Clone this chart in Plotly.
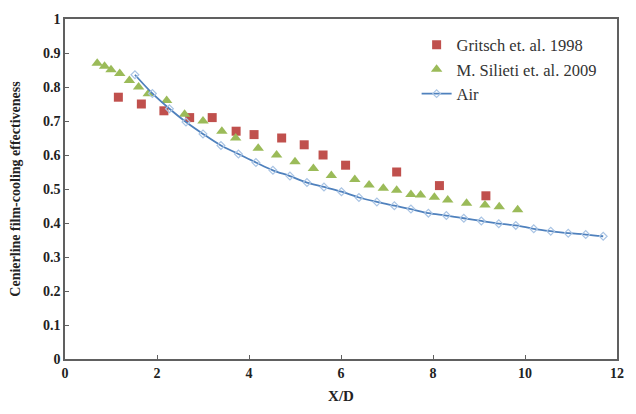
import plotly.graph_objects as go

# Gritsch et. al. 1998
gritsch_x = [1.16, 1.66, 2.15, 2.71, 3.20, 3.72, 4.11, 4.71, 5.20, 5.61, 6.10, 7.21, 8.14, 9.15]
gritsch_y = [0.77, 0.75, 0.73, 0.71, 0.71, 0.67, 0.66, 0.65, 0.63, 0.60, 0.57, 0.55, 0.51, 0.48]

# M. Silieti et. al. 2009
silieti_x = [0.70, 0.86, 1.00, 1.19, 1.40, 1.60, 1.81, 2.21, 2.60, 3.00, 3.41, 3.71, 4.20, 4.60,
             5.00, 5.40, 5.79, 6.30, 6.61, 6.92, 7.21, 7.52, 7.73, 8.03, 8.32, 8.73, 9.13, 9.44, 9.84]
silieti_y = [0.870, 0.861, 0.851, 0.840, 0.819, 0.800, 0.780, 0.760, 0.720, 0.700, 0.670, 0.650,
             0.620, 0.600, 0.580, 0.560, 0.540, 0.528, 0.512, 0.502, 0.496, 0.484, 0.482, 0.476,
             0.468, 0.458, 0.453, 0.448, 0.439]

# Air
air_x = [1.52, 1.90, 2.27, 2.63, 3.00, 3.39, 3.77, 4.15, 4.52, 4.89, 5.26, 5.63, 6.01, 6.39,
         6.78, 7.16, 7.52, 7.90, 8.29, 8.67, 9.05, 9.43, 9.80, 10.19, 10.56, 10.94, 11.32, 11.70]
air_y = [0.836, 0.781, 0.736, 0.697, 0.662, 0.628, 0.603, 0.578, 0.555, 0.538, 0.519, 0.506,
         0.492, 0.475, 0.462, 0.451, 0.441, 0.429, 0.422, 0.414, 0.406, 0.398, 0.393, 0.383,
         0.376, 0.370, 0.366, 0.361]

x_ticks = [0, 2, 4, 6, 8, 10, 12]
y_ticks = [0, 0.1, 0.2, 0.3, 0.4, 0.5, 0.6, 0.7, 0.8, 0.9, 1]
y_tick_text = ["0", "0.1", "0.2", "0.3", "0.4", "0.5", "0.6", "0.7", "0.8", "0.9", "1"]

serif = "Liberation Serif"

fig = go.Figure()
fig.add_trace(go.Scatter(
    x=gritsch_x, y=gritsch_y, mode="markers", name="Gritsch et. al. 1998",
    marker=dict(symbol="square", size=9, color="#C0504D", line=dict(width=0))))
fig.add_trace(go.Scatter(
    x=silieti_x, y=silieti_y, mode="markers", name="M. Silieti et. al. 2009",
    marker=dict(symbol="triangle-up", size=10, color="#9BBB59", line=dict(width=0))))
fig.add_trace(go.Scatter(
    x=air_x, y=air_y, mode="lines+markers", name="Air", line_shape="spline",
    line=dict(color="#4F81BD", width=1.8),
    marker=dict(symbol="diamond-open", size=6, color="#A9C4E4", line=dict(width=1.2))))

fig.update_layout(
    width=636, height=414,
    margin=dict(l=65, r=14, t=12, b=53),
    paper_bgcolor="white", plot_bgcolor="white",
    font=dict(family=serif, color="#222222"),
    showlegend=True,
    legend=dict(x=0.637, y=0.975, xanchor="left", yanchor="top",
                bgcolor="rgba(0,0,0,0)", font=dict(size=16.5, family=serif, color="#333333"),
                tracegroupgap=0, itemwidth=30),
    xaxis=dict(range=[0, 12], tickvals=x_ticks, ticks="inside", ticklen=4, tickcolor="#606060",
               showline=True, linecolor="#606060", linewidth=1.5, mirror=True, showgrid=False,
               zeroline=False, tickfont=dict(size=14, family=serif, color="#222222", weight="bold"),
               title=dict(text="<b>X/D</b>", font=dict(size=15, family=serif), standoff=11)),
    yaxis=dict(range=[0, 1], tickvals=y_ticks, ticktext=y_tick_text, ticks="inside", ticklen=4,
               tickcolor="#606060", showline=True, linecolor="#606060", linewidth=1.5, mirror=True,
               showgrid=False, zeroline=False,
               tickfont=dict(size=14, family=serif, color="#222222", weight="bold"),
               title=dict(text="<b>Cenierline film-cooling effectiveness</b>",
                          font=dict(size=14, family=serif), standoff=19)),
)

fig.write_html("out.html")
